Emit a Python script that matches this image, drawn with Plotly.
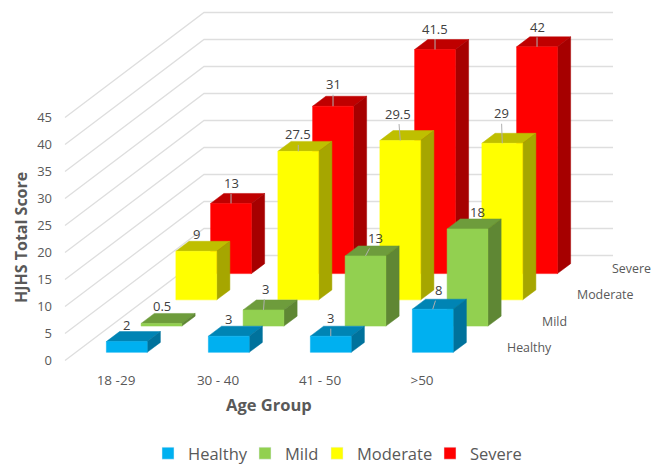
import plotly.graph_objects as go

age_groups = ["18 -29", "30 - 40", "41 - 50", ">50"]
series_names = ["Healthy", "Mild", "Moderate", "Severe"]
healthy = [2, 3, 3, 8]
mild = [0.5, 3, 13, 18]
moderate = [9, 27.5, 29.5, 29]
severe = [13, 31, 41.5, 42]
score_ticks = [0, 5, 10, 15, 20, 25, 30, 35, 40, 45]

series_values = [healthy, mild, moderate, severe]

# styles: front, top, side
face_colors = [
    ("#00B0F0", "#0084B4", "#00729C"),
    ("#92D050", "#6E9C3C", "#5F8734"),
    ("#FFFF00", "#BFBF00", "#A6A600"),
    ("#FF0000", "#BF0000", "#A60000"),
]
# label offsets in pixels from the bar's front-top centre, and leader flag
label_offsets = [
    [(0, -17, False), (0, -17, False), (0, -18, True), (6, -19, True)],
    [(0, -17, False), (1.5, -21, True), (9.5, -18, True), (9.5, -17, False)],
    [(0, -17, False), (0, -17, True), (-2, -27, True), (-1, -30, True)],
    [(0, -20, True), (0, -22, True), (0, -21, True), (0, -20, True)],
]
# left pixel of each legend block
legend_left = [148, 245, 317, 430]

PX_X, PX_Y = 102.0, 5.4
DX, DY = 34.75 / PX_X, 26.25 / PX_Y   # oblique shift per depth row
BAR_X, BAR_D = 0.4, 0.38
BACK_WALL = 409 / PX_X
TEXT = "#595959"
FONT = "Open Sans"
L, B = 53, 94
W, H = 651, 464
Y0 = 360.5


def proj(x, d, v):
    return x + d * DX, v + d * DY


def polygons(quads):
    xs, ys = [], []
    for q in quads:
        for p in q + [q[0]]:
            a, b = proj(*p)
            xs.append(a)
            ys.append(b)
        xs.append(None)
        ys.append(None)
    return xs, ys


def px_to_paper(px, py):
    return (px - L) / (W - L), (H - B - py) / (H - B)


fig = go.Figure()

# walls
gx, gy = [], []
for t in score_ticks:
    for p in [(0, 0, t), (0, 4, t), (BACK_WALL, 4, t)]:
        a, b = proj(*p)
        gx.append(a)
        gy.append(b)
    gx.append(None)
    gy.append(None)
fig.add_trace(go.Scatter(x=gx, y=gy, mode="lines", line=dict(color="#DEDEDE", width=1.3),
                         hoverinfo="skip", showlegend=False))

# bars, back row first
for j in reversed(range(len(series_values))):
    vals = series_values[j]
    fronts, tops, sides = [], [], []
    for i, v in enumerate(vals):
        x0, x1 = i + 0.5 - BAR_X / 2, i + 0.5 + BAR_X / 2
        d0, d1 = j + 0.5 - BAR_D / 2, j + 0.5 + BAR_D / 2
        fronts.append([(x0, d0, 0), (x1, d0, 0), (x1, d0, v), (x0, d0, v)])
        tops.append([(x0, d0, v), (x1, d0, v), (x1, d1, v), (x0, d1, v)])
        sides.append([(x1, d0, 0), (x1, d1, 0), (x1, d1, v), (x1, d0, v)])
    for quads, col in zip((tops, sides, fronts), (face_colors[j][1], face_colors[j][2], face_colors[j][0])):
        xs, ys = polygons(quads)
        fig.add_trace(go.Scatter(x=xs, y=ys, mode="lines", fill="toself", fillcolor=col,
                                 line=dict(color=col, width=0.5), hoverinfo="skip", showlegend=False))

# legend entries, one positioned legend per series
legend_layout = {}
for j, name in enumerate(series_names):
    key = "legend" if j == 0 else f"legend{j + 1}"
    fig.add_trace(go.Bar(x=[None], y=[None], name=name, marker_color=face_colors[j][0], hoverinfo="skip",
                         legend=key, showlegend=True))
    lx, ly = px_to_paper(legend_left[j], 471)
    legend_layout[key] = dict(x=lx, xanchor="left", y=ly, yanchor="bottom", orientation="h",
                              font=dict(family=FONT, size=16.5, color=TEXT), bgcolor="rgba(0,0,0,0)")

# data labels
for j, vals in enumerate(series_values):
    for i, v in enumerate(vals):
        a, b = proj(i + 0.5, j + 0.5 - BAR_D / 2, v)
        ox, oy, leader = label_offsets[j][i]
        common = dict(x=a, y=b, xref="x", yref="y", text=str(v),
                      font=dict(family=FONT, size=13, color="#404040"))
        if leader:
            fig.add_annotation(**common, showarrow=True, arrowhead=0, arrowwidth=1,
                               arrowcolor="#B0B0B0", ax=ox, ay=oy, standoff=0)
        else:
            fig.add_annotation(**common, showarrow=False, xshift=ox, yshift=-oy)

# depth axis labels
for j, name in enumerate(series_names):
    a, b = proj(4, j + 0.5, 0)
    fig.add_annotation(x=a, y=b, xref="x", yref="y", text=name, showarrow=False, xanchor="left",
                       xshift=15, font=dict(family=FONT, size=12.4, color=TEXT))

# axis titles
tx, ty = px_to_paper(21, 238)
fig.add_annotation(x=tx, y=ty, xref="paper", yref="paper", text="<b>HJHS Total Score</b>", showarrow=False,
                   textangle=-90, xanchor="center", yanchor="middle", font=dict(family=FONT, size=16, color=TEXT))
tx, ty = px_to_paper(268.5, 405)
fig.add_annotation(x=tx, y=ty, xref="paper", yref="paper", text="<b>Age Group</b>", showarrow=False,
                   xanchor="center", yanchor="middle", font=dict(family=FONT, size=16.5, color=TEXT))

fig.update_layout(
    width=W, height=H,
    margin=dict(l=L, r=0, t=0, b=B, pad=0, autoexpand=False),
    paper_bgcolor="white", plot_bgcolor="white",
    font=dict(family=FONT, size=12, color=TEXT),
    xaxis=dict(range=[(L - 65) / PX_X, (W - 65) / PX_X], tickmode="array",
               tickvals=[i + 0.5 for i in range(len(age_groups))], ticktext=age_groups,
               showgrid=False, zeroline=False, showline=False, ticks="", tickfont=dict(family=FONT, size=13.5, color=TEXT)),
    yaxis=dict(range=[(Y0 - (H - B)) / PX_Y, Y0 / PX_Y], tickmode="array", tickvals=score_ticks,
               showgrid=False, zeroline=False, showline=False, ticks="", tickfont=dict(family=FONT, size=13, color=TEXT)),
    **legend_layout,
)

fig.write_html("out.html", config={"displayModeBar": False}, post_script="document.body.style.margin='0';")
